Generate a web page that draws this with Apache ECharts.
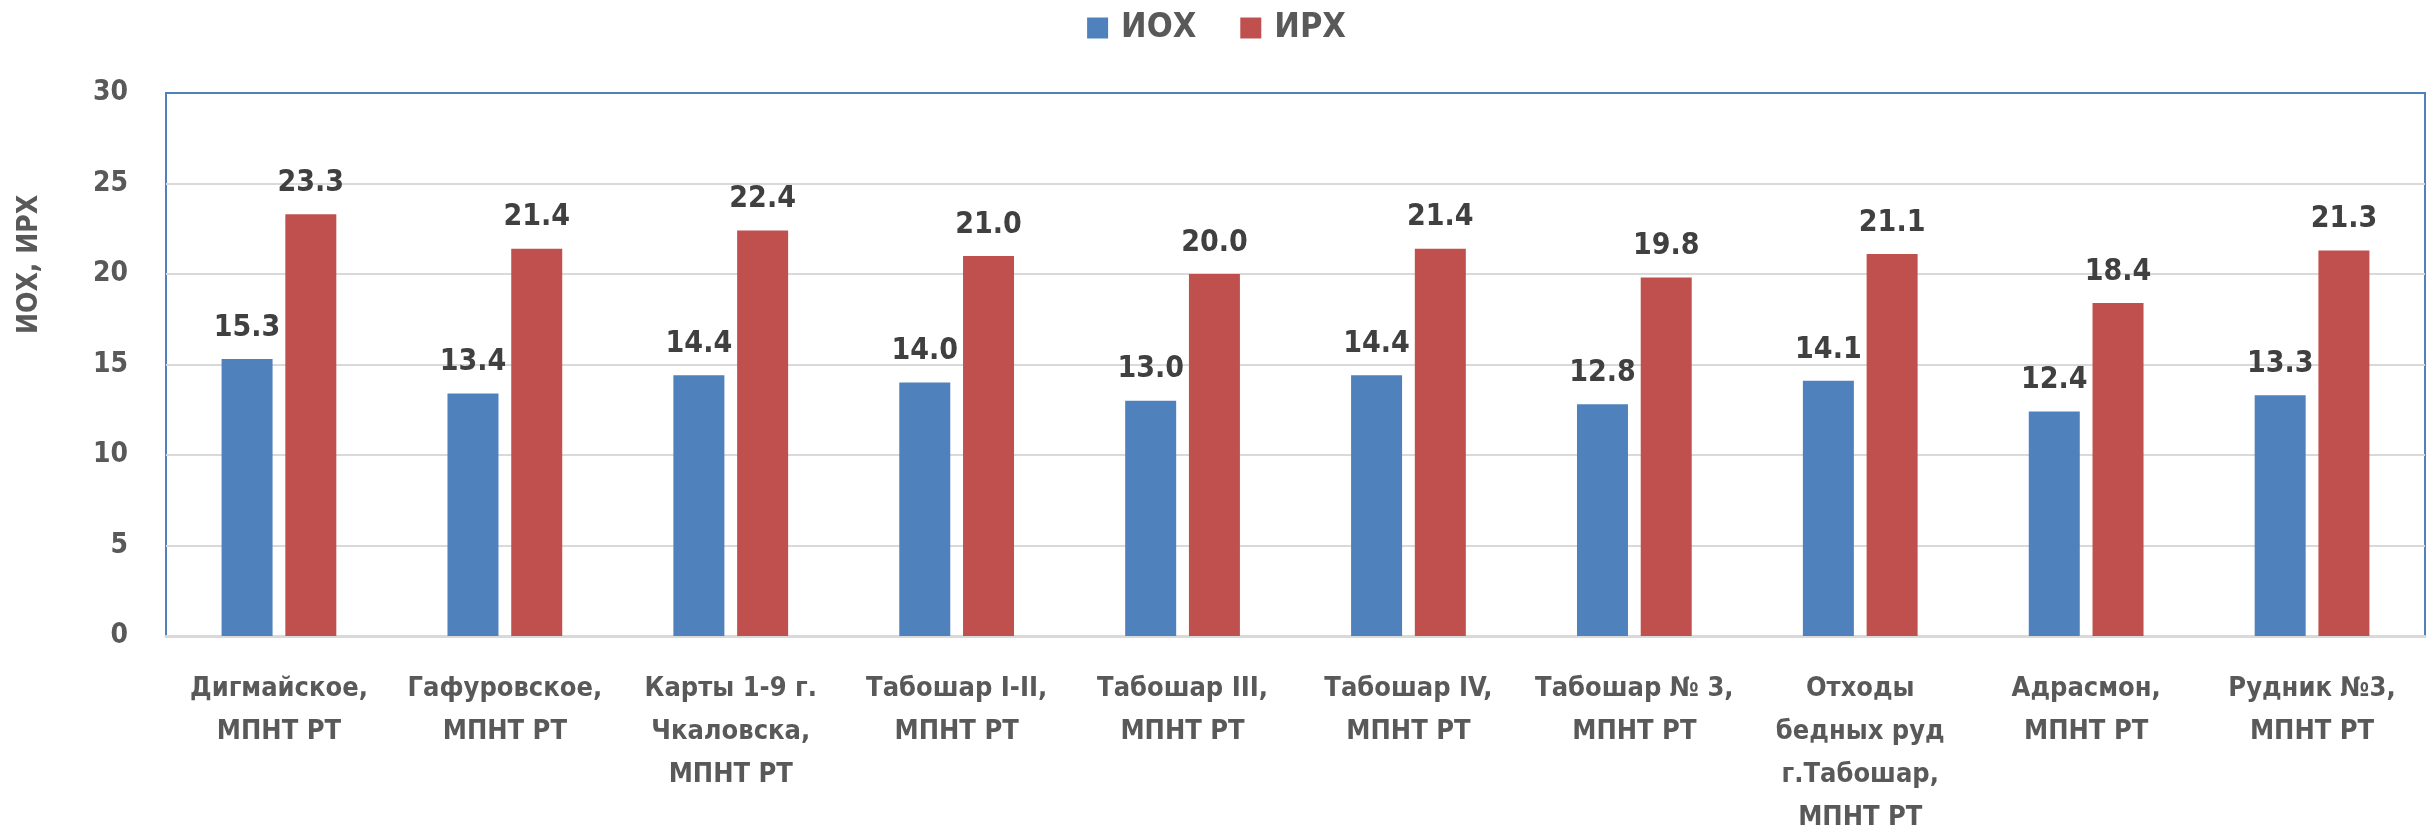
<!DOCTYPE html>
<html>
<head>
<meta charset="utf-8">
<script src="https://cdn.jsdelivr.net/npm/echarts@6/dist/echarts.min.js"></script>
<style>
    html, body { margin: 0; padding: 0; background: #fff; }
    #chart { width: 2433px; height: 829px; }
</style>
</head>
<body>
<div id="chart"></div>
<script>
const categories = [
    'Дигмайское,\nМПНТ РТ',
    'Гафуровское,\nМПНТ РТ',
    'Карты 1-9 г.\nЧкаловска,\nМПНТ РТ',
    'Табошар I-II,\nМПНТ РТ',
    'Табошар III,\nМПНТ РТ',
    'Табошар IV,\nМПНТ РТ',
    'Табошар № 3,\nМПНТ РТ',
    'Отходы\nбедных руд\nг.Табошар,\nМПНТ РТ',
    'Адрасмон,\nМПНТ РТ',
    'Рудник №3,\nМПНТ РТ'
];
const iohValues = [15.3, 13.4, 14.4, 14.0, 13.0, 14.4, 12.8, 14.1, 12.4, 13.3];
const irhValues = [23.3, 21.4, 22.4, 21.0, 20.0, 21.4, 19.8, 21.1, 18.4, 21.3];
const seriesNames = ['ИОХ', 'ИРХ'];

const font = '"Liberation Sans Narrow", "DejaVu Sans Condensed", sans-serif';
const textGrey = '#595959';
const gridGrey = '#d9d9d9';
const frameBlue = '#4f81bd';

const chart = echarts.init(document.getElementById('chart'));

function barSeries(name, values, color) {
    return {
        name: name,
        type: 'bar',
        data: values,
        barWidth: 51,
        barGap: '25%',
        itemStyle: { color: color },
        label: {
            show: true,
            position: 'top',
            distance: 16,
            fontFamily: font,
            fontWeight: 'bold',
            fontSize: 30,
            color: '#404040',
            formatter: (p) => p.value.toFixed(1)
        }
    };
}

chart.setOption({
    animation: false,
    textStyle: { fontFamily: font },
    legend: {
        top: 6,
        left: 'center',
        itemWidth: 21,
        itemHeight: 21,
        itemGap: 44,
        icon: 'rect',
        textStyle: { fontFamily: font, fontWeight: 'bold', fontSize: 34, color: textGrey, padding: [0, 0, 0, 8] },
        data: seriesNames
    },
    grid: {
        left: 166,
        right: 8,
        top: 93,
        bottom: 193,
        outerBoundsMode: 'none',
        containLabel: false,
        show: true,
        borderColor: frameBlue,
        borderWidth: 2
    },
    xAxis: {
        type: 'category',
        data: categories,
        axisTick: { show: false },
        axisLine: { lineStyle: { color: gridGrey, width: 3 } },
        axisLabel: {
            interval: 0,
            margin: 31,
            fontFamily: font,
            fontWeight: 'bold',
            fontSize: 27,
            lineHeight: 43,
            color: textGrey
        }
    },
    yAxis: {
        type: 'value',
        min: 0,
        max: 30,
        interval: 5,
        name: 'ИОХ, ИРХ',
        nameLocation: 'middle',
        nameRotate: 90,
        nameGap: 122,
        nameTextStyle: {
            fontFamily: font,
            fontWeight: 'bold',
            fontSize: 28,
            color: textGrey,
            padding: [0, 0, 0, 200]
        },
        axisLine: { show: false },
        axisTick: { show: false },
        splitLine: {
            lineStyle: {
                // last line (30) sits on the blue frame
                color: [gridGrey, gridGrey, gridGrey, gridGrey, gridGrey, gridGrey, frameBlue],
                width: 2
            }
        },
        axisLabel: {
            margin: 38,
            fontFamily: font,
            fontWeight: 'bold',
            fontSize: 28,
            color: textGrey
        }
    },
    series: [
        barSeries(seriesNames[0], iohValues, '#4f81bd'),
        barSeries(seriesNames[1], irhValues, '#c0504d')
    ]
});
</script>
</body>
</html>
